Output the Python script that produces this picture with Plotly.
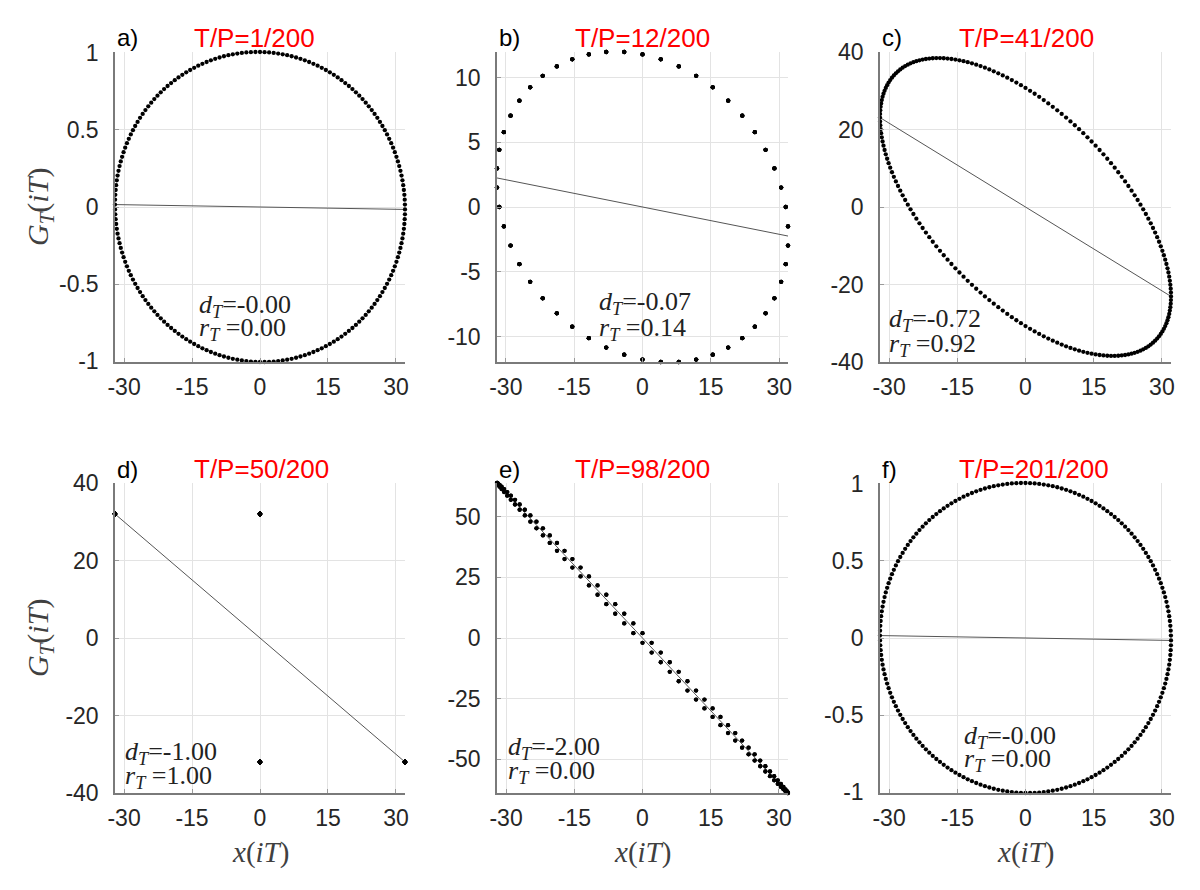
import numpy as np
import plotly.graph_objects as go

# ---------------- data ----------------
panel_labels = ["a)", "b)", "c)", "d)", "e)", "f)"]
tp_numerators = [1, 12, 41, 50, 98, 201]
tp_denominator = 200
amplitude = 32.0          # x(iT) amplitude
n_samples = 200           # i = 0 .. 199
d_values = ["-0.00", "-0.07", "-0.72", "-1.00", "-2.00", "-0.00"]
r_values = ["0.00", "0.14", "0.92", "1.00", "0.00", "0.00"]
x_tick_vals = [-30, -15, 0, 15, 30]
x_tick_text = ["-30", "-15", "0", "15", "30"]
y_tick_vals = [
    [-1, -0.5, 0, 0.5, 1],
    [-10, -5, 0, 5, 10],
    [-40, -20, 0, 20, 40],
    [-40, -20, 0, 20, 40],
    [-50, -25, 0, 25, 50],
    [-1, -0.5, 0, 0.5, 1],
]
y_tick_text = [
    ["-1", "-0.5", "0", "0.5", "1"],
    ["-10", "-5", "0", "5", "10"],
    ["-40", "-20", "0", "20", "40"],
    ["-40", "-20", "0", "20", "40"],
    ["-50", "-25", "0", "25", "50"],
    ["-1", "-0.5", "0", "0.5", "1"],
]
y_fixed_limits = [None, None, (-40, 40), (-40, 40), None, None]

# ---------------- layout geometry (pixels of the 1200x890 screenshot) ----------------
W, H = 1200, 890
OFF = 8   # the page body adds an 8px margin
col_px = [(115, 405), (497, 788), (880, 1171)]
row_px = [(52, 362), (483, 793)]
title_left_px = [192, 573, 957]
label_cy_px = [38, 469]
# annotation placement: x in data units, y as fraction of plot height
ann_pos = [(-13.9, 0.181, 0.106), (-9.9, 0.19, 0.106), (-30.4, 0.135, 0.055),
           (-30.2, 0.129, 0.052), (-30.0, 0.145, 0.068), (-14.0, 0.181, 0.106)]


def px_x(p):
    return (p - OFF) / W


def px_y(p):
    return 1 - (p - OFF) / H


AXCOL = "#262626"
GRID = "#e3e3e3"
SANS = "Liberation Sans, Arial, sans-serif"
SERIF = "Liberation Serif, Times New Roman, serif"

fig = go.Figure()
annotations = []

i = np.arange(n_samples)
for k in range(6):
    row, col = divmod(k, 3)
    ratio = tp_numerators[k] / tp_denominator
    x_samp = amplitude * np.sin(2 * np.pi * ratio * i)
    g_samp = amplitude * np.sin(2 * np.pi * ratio * (i + 1)) - x_samp

    xa = "x" if k == 0 else f"x{k+1}"
    ya = "y" if k == 0 else f"y{k+1}"
    xname = "xaxis" if k == 0 else f"xaxis{k+1}"
    yname = "yaxis" if k == 0 else f"yaxis{k+1}"

    # regression line fitted to the sampled points
    slope, intercept = np.polyfit(x_samp, g_samp, 1)
    xl = np.array([x_samp.min(), x_samp.max()])
    fig.add_trace(go.Scatter(x=xl, y=slope * xl + intercept, mode="lines",
                             line=dict(color="#555555", width=1),
                             xaxis=xa, yaxis=ya, showlegend=False, hoverinfo="skip"))
    fig.add_trace(go.Scatter(x=x_samp, y=g_samp, mode="markers",
                             marker=dict(color="black", size=4.3, line=dict(width=0)),
                             xaxis=xa, yaxis=ya, showlegend=False, cliponaxis=False))

    x0, x1 = col_px[col]
    y0, y1 = row_px[row]
    xdom = [px_x(x0), px_x(x1)]
    ydom = [px_y(y1), px_y(y0)]

    if y_fixed_limits[k] is None:
        yr = [float(g_samp.min()), float(g_samp.max())]
    else:
        yr = list(y_fixed_limits[k])
    xr = [float(x_samp.min()), float(x_samp.max())]

    common = dict(showgrid=True, gridcolor=GRID, gridwidth=1, zeroline=False,
                  showline=True, linecolor="#7a7a7a", linewidth=1.5,
                  ticks="inside", ticklen=4, tickcolor="#9a9a9a",
                  tickfont=dict(family=SANS, size=23, color=AXCOL), mirror=False,
                  automargin=False, fixedrange=True)
    fig.layout[xname] = dict(domain=xdom, range=xr, anchor=ya, ticklabelstandoff=4,
                             tickvals=x_tick_vals, ticktext=x_tick_text, **common)
    fig.layout[yname] = dict(domain=ydom, range=yr, anchor=xa, ticklabelstandoff=10,
                             tickvals=y_tick_vals[k], ticktext=y_tick_text[k], **common)

    # panel label and red title
    cy = px_y(label_cy_px[row])
    annotations.append(dict(xref="paper", yref="paper", x=px_x(x0), y=cy,
                            xanchor="left", yanchor="middle", showarrow=False,
                            text=panel_labels[k],
                            font=dict(family=SANS, size=24, color="black")))
    annotations.append(dict(xref="paper", yref="paper", x=px_x(title_left_px[col]), y=cy,
                            xanchor="left", yanchor="middle", showarrow=False,
                            text=f"T/P={tp_numerators[k]}/{tp_denominator}",
                            font=dict(family=SANS, size=26, color="#ff0000")))

    ax_x, fy_d, fy_r = ann_pos[k]
    annotations.append(dict(xref=xa, yref=f"{ya} domain", x=ax_x, y=fy_d,
                            xanchor="left", yanchor="middle", showarrow=False,
                            text=f"<i>d</i><sub><i>T</i></sub>={d_values[k]}",
                            font=dict(family=SERIF, size=26, color="#222222")))
    annotations.append(dict(xref=xa, yref=f"{ya} domain", x=ax_x, y=fy_r,
                            xanchor="left", yanchor="middle", showarrow=False,
                            text=f"<i>r</i><sub><i>T</i></sub> ={r_values[k]}",
                            font=dict(family=SERIF, size=26, color="#222222")))

    # axis titles (left column: y label, bottom row: x label)
    if col == 0:
        annotations.append(dict(xref="paper", yref="paper", x=px_x(40),
                                y=px_y((y0 + y1) / 2), xanchor="center", yanchor="middle",
                                textangle=-90, showarrow=False,
                                text="<i>G</i><sub><i>T</i></sub>(<i>iT</i>)",
                                font=dict(family=SERIF, size=30, color="#404040")))
    if row == 1:
        annotations.append(dict(xref="paper", yref="paper", x=px_x((x0 + x1) / 2),
                                y=px_y(852), xanchor="center", yanchor="middle",
                                showarrow=False, text="<i>x</i>(<i>iT</i>)",
                                font=dict(family=SERIF, size=29, color="#404040")))

fig.update_layout(template="none", width=W, height=H,
                  margin=dict(l=0, r=0, t=0, b=0, autoexpand=False),
                  paper_bgcolor="white", plot_bgcolor="white",
                  annotations=annotations, showlegend=False)

fig.write_html("out.html")
